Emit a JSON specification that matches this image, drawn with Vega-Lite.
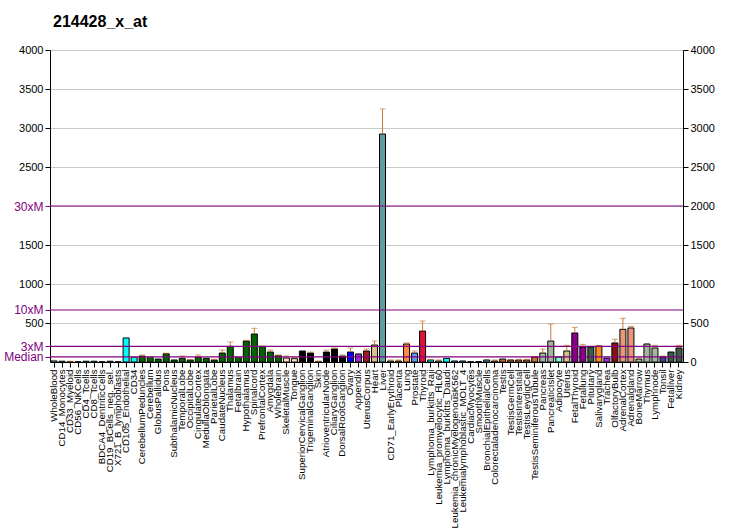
{
  "$schema": "https://vega.github.io/schema/vega-lite/v6.json",
  "autosize": "none",
  "width": 633,
  "height": 312,
  "padding": {"left": 50, "top": 50, "right": 49, "bottom": 168},
  "background": "white",
  "config": {"view": {"stroke": null}, "axis": {"labelFont": "Liberation Sans", "titleFont": "Liberation Sans"}},
  "title": {"text": "214428_x_at", "anchor": "start", "frame": "group", "font": "Liberation Sans", "fontSize": 16, "fontWeight": "bold", "offset": 14, "color": "black", "dx": 3},
  "datasets": {
    "bars": [
      {"name": "WholeBlood", "value": 15, "err": 22, "group": "blood"},
      {"name": "CD14_Monocytes", "value": 10, "err": null, "group": "blood"},
      {"name": "CD33_Myeloid", "value": 6, "err": 10, "group": "blood"},
      {"name": "CD56_NKCells", "value": 3, "err": null, "group": "blood"},
      {"name": "CD4_Tcells", "value": 10, "err": null, "group": "blood"},
      {"name": "CD8_Tcells", "value": 10, "err": null, "group": "blood"},
      {"name": "BDCA4_DentriticCells", "value": 3, "err": null, "group": "blood"},
      {"name": "CD19_BCells_neg._sel.", "value": 10, "err": null, "group": "blood"},
      {"name": "X721_B_lymphoblasts", "value": 3, "err": null, "group": "blood"},
      {"name": "CD105_Endothelial", "value": 308, "err": null, "group": "blood"},
      {"name": "CD34", "value": 60, "err": 62, "group": "blood"},
      {"name": "CerebellumPeduncles", "value": 77, "err": 88, "group": "brain"},
      {"name": "Cerebellum", "value": 60, "err": 62, "group": "brain"},
      {"name": "GlobusPallidus", "value": 38, "err": null, "group": "brain"},
      {"name": "Pons", "value": 107, "err": 113, "group": "brain"},
      {"name": "SubthalamicNucleus", "value": 26, "err": null, "group": "brain"},
      {"name": "TemporalLobe", "value": 47, "err": 77, "group": "brain"},
      {"name": "OccipitalLobe", "value": 26, "err": 30, "group": "brain"},
      {"name": "CingulateCortex", "value": 60, "err": 90, "group": "brain"},
      {"name": "MedullaOblongata", "value": 47, "err": null, "group": "brain"},
      {"name": "ParietalLobe", "value": 26, "err": 35, "group": "brain"},
      {"name": "CaudateNucleus", "value": 115, "err": 154, "group": "brain"},
      {"name": "Thalamus", "value": 200, "err": 256, "group": "brain"},
      {"name": "Fetalbrain", "value": 60, "err": 62, "group": "brain"},
      {"name": "Hypothalamus", "value": 269, "err": 278, "group": "brain"},
      {"name": "Spinalcord", "value": 359, "err": 432, "group": "brain"},
      {"name": "PrefrontalCortex", "value": 197, "err": 205, "group": "brain"},
      {"name": "Amygdala", "value": 128, "err": 154, "group": "brain"},
      {"name": "Wholebrain", "value": 81, "err": 90, "group": "brain"},
      {"name": "SkeletalMuscle", "value": 51, "err": 77, "group": "muscle"},
      {"name": "Tongue", "value": 43, "err": 60, "group": "muscle"},
      {"name": "SuperiorCervicalGanglion", "value": 141, "err": null, "group": "ganglion"},
      {"name": "TrigeminalGanglion", "value": 115, "err": 128, "group": "ganglion"},
      {"name": "Skin", "value": 4, "err": 13, "group": "ganglion"},
      {"name": "AtrioventricularNode", "value": 128, "err": 154, "group": "ganglion"},
      {"name": "CiliaryGanglion", "value": 167, "err": 180, "group": "ganglion"},
      {"name": "DorsalRootGanglion", "value": 77, "err": 90, "group": "ganglion"},
      {"name": "Ovary", "value": 128, "err": 180, "group": "ovary"},
      {"name": "Appendix", "value": 103, "err": null, "group": "appendix"},
      {"name": "UterusCorpus", "value": 141, "err": 167, "group": "uteruscorpus"},
      {"name": "Heart", "value": 218, "err": 269, "group": "tan"},
      {"name": "Liver", "value": 2923, "err": 3244, "group": "liver"},
      {"name": "CD71_EarlyErythroid", "value": 13, "err": 26, "group": "erythroid"},
      {"name": "Placenta", "value": 13, "err": 26, "group": "brown"},
      {"name": "Lung", "value": 231, "err": 244, "group": "lung"},
      {"name": "Prostate", "value": 115, "err": 141, "group": "prostate"},
      {"name": "Thyroid", "value": 397, "err": 526, "group": "thyroid"},
      {"name": "Lymphoma_burkitts_Raji", "value": 26, "err": 30, "group": "blood"},
      {"name": "Leukemia_promyelocytic_HL60", "value": 13, "err": 26, "group": "blood"},
      {"name": "Lymphoma_burkitts_Daudi", "value": 47, "err": null, "group": "blood"},
      {"name": "Leukemia_chronicMyelogenousK562", "value": 13, "err": null, "group": "blood"},
      {"name": "Leukemialymphoblastic_MOLT_4", "value": 13, "err": null, "group": "blood"},
      {"name": "CardiacMyocytes", "value": 3, "err": null, "group": "ganglion"},
      {"name": "SmoothMuscle", "value": 4, "err": null, "group": "ganglion"},
      {"name": "BronchialEpithelialCells", "value": 26, "err": null, "group": "bronchial"},
      {"name": "Colorectaladenocarcinoma", "value": 13, "err": 26, "group": "bronchial"},
      {"name": "Testis", "value": 38, "err": null, "group": "brown"},
      {"name": "TestisGermCell", "value": 26, "err": null, "group": "brown"},
      {"name": "TestisInterstitial", "value": 26, "err": 35, "group": "brown"},
      {"name": "TestisLeydigCell", "value": 26, "err": 35, "group": "brown"},
      {"name": "TestisSeminiferousTubule", "value": 64, "err": 68, "group": "brown"},
      {"name": "Pancreas", "value": 115, "err": 167, "group": "sage"},
      {"name": "PancreaticIslet", "value": 269, "err": 487, "group": "sage"},
      {"name": "Adipocyte", "value": 64, "err": 68, "group": "adipocyte"},
      {"name": "Uterus", "value": 141, "err": 214, "group": "tan"},
      {"name": "FetalThyroid", "value": 372, "err": 444, "group": "fetal"},
      {"name": "Fetallung", "value": 192, "err": 226, "group": "fetal"},
      {"name": "Pituitary", "value": 192, "err": null, "group": "slate"},
      {"name": "Salivarygland", "value": 205, "err": 208, "group": "salivary"},
      {"name": "Trachea", "value": 51, "err": null, "group": "trachea"},
      {"name": "OlfactoryBulb", "value": 244, "err": 291, "group": "olfactory"},
      {"name": "AdrenalCortex", "value": 419, "err": 560, "group": "adrenal"},
      {"name": "Adrenalgland", "value": 436, "err": 457, "group": "adrenal"},
      {"name": "BoneMarrow", "value": 38, "err": 55, "group": "sage"},
      {"name": "Thymus", "value": 231, "err": null, "group": "sage"},
      {"name": "Lymphnode", "value": 180, "err": 214, "group": "sage"},
      {"name": "Tonsil", "value": 64, "err": 77, "group": "tonsil"},
      {"name": "Fetalliver", "value": 128, "err": null, "group": "slate"},
      {"name": "Kidney", "value": 180, "err": 214, "group": "slate"}
    ],
    "lines": [{"v": 66.67}, {"v": 200}, {"v": 666.67}, {"v": 2000}]
  },
  "layer": [
    {
      "data": {"name": "bars"},
      "mark": {"type": "bar", "stroke": "black", "strokeWidth": 1},
      "encoding": {
        "x": {"field": "name", "type": "nominal", "sort": null, "scale": {"paddingInner": 0.25, "paddingOuter": 0.125},
          "axis": {"title": null, "labelAngle": -90, "labelFontSize": 9.7, "tickSize": 5, "labelPadding": 2, "domainColor": "black", "tickColor": "black", "labelColor": "black", "labelLimit": 250, "labelOverlap": false}},
        "y": {"field": "value", "type": "quantitative", "scale": {"domain": [0, 4000], "nice": false},
          "axis": {"orient": "left", "title": null, "grid": false, "format": "d", "labelOverlap": false, "labelFlush": false,
            "values": [66.67, 200, 500, 666.67, 1000, 1500, 2000, 2500, 3000, 3500, 4000],
            "labelExpr": "datum.value == 2000 ? '30xM' : abs(datum.value - 666.67) < 1 ? '10xM' : datum.value == 200 ? '3xM' : abs(datum.value - 66.67) < 1 ? 'Median' : datum.label",
            "labelColor": {"condition": {"test": "datum.value == 2000 || datum.value == 200 || abs(datum.value - 666.67) < 1 || abs(datum.value - 66.67) < 1", "value": "#800080"}, "value": "black"},
            "tickColor": {"condition": {"test": "datum.value == 2000 || datum.value == 200 || abs(datum.value - 666.67) < 1 || abs(datum.value - 66.67) < 1", "value": "#800080"}, "value": "black"},
            "labelFontSize": {"condition": {"test": "datum.value == 2000 || datum.value == 200 || abs(datum.value - 666.67) < 1 || abs(datum.value - 66.67) < 1", "value": 12}, "value": 11},
            "tickSize": 5, "labelPadding": 2, "domainColor": "black"}},
        "color": {"field": "group", "type": "nominal", "legend": null,
          "scale": {
            "domain": ["blood", "brain", "muscle", "ganglion", "ovary", "appendix", "uteruscorpus", "tan", "liver", "erythroid", "brown", "lung", "prostate", "thyroid", "bronchial", "sage", "adipocyte", "fetal", "slate", "salivary", "trachea", "olfactory", "adrenal", "tonsil"],
            "range": ["#00FFFF", "#006400", "#FFE0C0", "#000000", "#0000FF", "#9932CC", "#A01C1C", "#D8BE8C", "#5F9EA0", "#7CFC00", "#CD6F2E", "#FF8C40", "#6495ED", "#DC143C", "#6E9CA8", "#A2B6A0", "#7FFFD4", "#8B008B", "#3B5B47", "#FF8C1E", "#9B30E8", "#8B1010", "#E9967A", "#483D8B"]}}
      }
    },
    {
      "data": {"name": "bars"},
      "transform": [{"filter": "datum.err != null"}],
      "mark": {"type": "rule", "color": "#CC7A33", "strokeWidth": 1},
      "encoding": {
        "x": {"field": "name", "type": "nominal", "sort": null},
        "y": {"field": "value", "type": "quantitative", "scale": {"domain": [0, 4000], "nice": false}, "axis": null},
        "y2": {"field": "err"}
      }
    },
    {
      "data": {"name": "bars"},
      "transform": [{"filter": "datum.err != null"}],
      "mark": {"type": "tick", "color": "#CC7A33", "thickness": 1, "size": 6},
      "encoding": {
        "x": {"field": "name", "type": "nominal", "sort": null},
        "y": {"field": "err", "type": "quantitative", "scale": {"domain": [0, 4000], "nice": false}, "axis": null}
      }
    },
    {
      "data": {"name": "lines"},
      "mark": {"type": "rule", "color": "#800080", "strokeWidth": 1.2},
      "encoding": {
        "y": {"field": "v", "type": "quantitative", "scale": {"domain": [0, 4000], "nice": false},
          "axis": {"orient": "right", "title": null, "grid": true, "gridColor": "#C8C8C8", "gridWidth": 1, "format": "d",
            "values": [0, 500, 1000, 1500, 2000, 2500, 3000, 3500, 4000],
            "labelFontSize": 11, "labelColor": "black", "tickColor": "black", "domainColor": "black", "tickSize": 5, "labelPadding": 2}}
      }
    }
  ],
  "resolve": {"scale": {"y": "independent"}}
}
